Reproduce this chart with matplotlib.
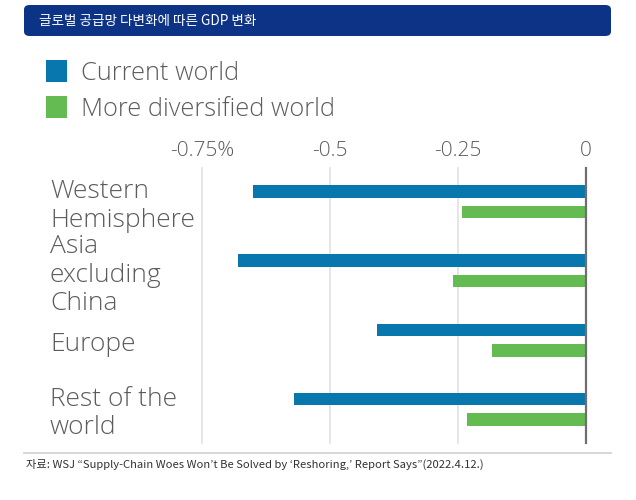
import numpy as np
import matplotlib
matplotlib.use("Agg")
import matplotlib.pyplot as plt
from matplotlib.patches import FancyBboxPatch, Rectangle
from matplotlib.lines import Line2D

REGIONS = ["Western\nHemisphere", "Asia\nexcluding\nChina", "Europe", "Rest of the\nworld"]
SERIES = ["Current world", "More diversified world"]
current = [-0.651, -0.679, -0.409, -0.570]
diversified = [-0.243, -0.260, -0.183, -0.233]
TICKS = [-0.75, -0.5, -0.25, 0]
TICK_LABELS = ["-0.75%", "-0.5", "-0.25", "0"]

TITLE = "글로벌 공급망 다변화에 따른 GDP 변화"
SOURCE = "자료: WSJ “Supply-Chain Woes Won’t Be Solved by ‘Reshoring,’ Report Says”(2022.4.12.)"

C_CUR, C_DIV = "#0777ae", "#63bb51"
NAVY = "#0d3386"
TXT = "#5c5c5c"
LATIN = ["Open Sans", "DejaVu Sans"]
KOR = ["Noto Sans CJK KR", "DejaVu Sans"]

W, H = 636, 500
fig = plt.figure(figsize=(W / 100, H / 100), dpi=100)


def fx(px):
    return px / W


def fy(py):
    return 1 - py / H


# title banner
fig.patches.append(FancyBboxPatch((fx(24), fy(36)), fx(611) - fx(24), fy(5) - fy(36),
                                  boxstyle="round,pad=0,rounding_size=0.009",
                                  transform=fig.transFigure, facecolor=NAVY, edgecolor="none"))
fig.text(fx(39), fy(21), TITLE, color="white", fontsize=9.8, family=KOR, fontweight="medium",
         va="center", ha="left")

# legend
for i, (name, col) in enumerate(zip(SERIES, [C_CUR, C_DIV])):
    top = 60 + i * 36.5
    fig.patches.append(Rectangle((fx(46), fy(top + 21.5)), fx(21), fy(0) - fy(21.5),
                                 transform=fig.transFigure, facecolor=col, edgecolor="none"))
    fig.text(fx(81), fy(top + 19.5), name, color=TXT, fontsize=18.3, family=LATIN,
             fontweight="light", va="baseline", ha="left")

# bars
ax = fig.add_axes([fx(202), fy(443), fx(586) - fx(202), fy(168) - fy(443)])
y = np.arange(len(REGIONS))
off, bh = 0.148, 0.182
ax.barh(y - off, current, height=bh, color=C_CUR, zorder=3)
ax.barh(y + off, diversified, height=bh, color=C_DIV, zorder=3)
ax.set_xlim(-0.75, 0)
ax.set_ylim(len(REGIONS) - 0.512, -0.488)

for t in TICKS[:-1]:
    ax.axvline(t, color="#e2e2e2", lw=1.2, zorder=1, clip_on=False)
ax.axvline(0, color="#6f6f6f", lw=1.6, zorder=4, clip_on=False)

ax.xaxis.tick_top()
ax.set_xticks(TICKS)
ax.set_xticklabels(TICK_LABELS, family=LATIN, fontsize=15, color=TXT, fontweight="light")
ax.tick_params(axis="x", length=0, pad=5)
ax.set_yticks([])
for s in ax.spines.values():
    s.set_visible(False)

for yi, name in zip(y, REGIONS):
    ax.text((50 - 202) / 384, yi + 0.06, name, transform=ax.get_yaxis_transform(),
            ha="left", va="center", family=LATIN, fontsize=19, color=TXT,
            fontweight="light", linespacing=1.19)

# bottom rule and source
fig.add_artist(Line2D([fx(24), fx(611)], [fy(453), fy(453)], color="#cfcfcf", lw=1.2))
fig.text(fx(26), fy(464), SOURCE, color="#333333", fontsize=8.1, family=KOR, va="center", ha="left")

fig.savefig("out.png", dpi=100)
